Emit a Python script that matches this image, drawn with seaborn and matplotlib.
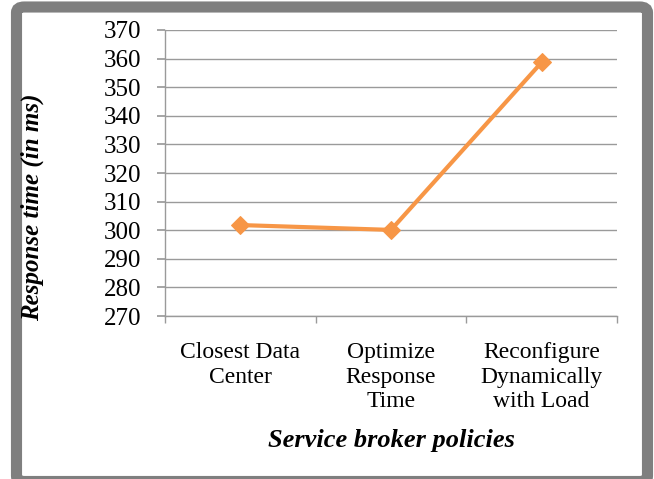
import matplotlib.pyplot as plt
import seaborn as sns
import pandas as pd
from matplotlib.patches import FancyBboxPatch

# data
policies = ['Closest Data\nCenter', 'Optimize\nResponse\nTime', 'Reconfigure\nDynamically\nwith Load']
response_time = [301.8, 300.1, 358.7]

y_ticks = list(range(270, 371, 10))

sns.set_theme(style='white')
plt.rcParams['font.family'] = ['Liberation Serif', 'DejaVu Serif']
plt.rcParams['text.color'] = 'black'

df = pd.DataFrame({'policy': policies, 'time': response_time})

fig = plt.figure(figsize=(6.54, 4.79), dpi=100)

# grey frame round the whole chart (bottom edge is cut by the picture)
frame = FancyBboxPatch((16.5 / 654, 1 - 481.5 / 479), 631 / 654, 474.5 / 479,
                       boxstyle='round,pad=0,rounding_size=0.012',
                       transform=fig.transFigure, facecolor='white',
                       edgecolor='#7f7f7f', linewidth=8, zorder=-10,
                       clip_on=False)
fig.patches.append(frame)

ax = fig.add_axes([165 / 654, 1 - 316 / 479, 452 / 654, 286 / 479])
ax.set_facecolor('none')
ax.set_zorder(5)

sns.lineplot(data=df, x='policy', y='time', ax=ax, color='#F79646',
             linewidth=3, marker='D', markersize=9, markeredgecolor='#F79646',
             sort=False)

ax.set_xlim(-0.5, 2.5)
ax.set_ylim(270, 370)
ax.set_yticks(y_ticks)
ax.yaxis.grid(True, color='#9a9a9a', linewidth=1)
ax.set_axisbelow(True)

for side in ['top', 'right']:
    ax.spines[side].set_visible(False)
for side in ['left', 'bottom']:
    ax.spines[side].set_color('#9a9a9a')
    ax.spines[side].set_linewidth(1)

# category ticks sit between the categories
ax.set_xticks([0, 1, 2])
ax.set_xticklabels(policies, fontsize=17, linespacing=1.2)
ax.set_xticks([-0.5, 0.5, 1.5, 2.5], minor=True)
ax.tick_params(axis='x', which='major', length=0, pad=19, labelcolor='black')
ax.tick_params(axis='x', which='minor', length=5, color='#9a9a9a', direction='out', bottom=True)
ax.tick_params(axis='y', length=6, color='#9a9a9a', labelcolor='black', direction='out', left=True,
               labelsize=18, pad=11)

ax.set_xlabel('')
ax.set_ylabel('')

fig.text(32 / 654, 1 - 207 / 479, 'Response time (in ms)', rotation=90,
         ha='center', va='center', fontsize=18, fontweight='bold', style='italic')
fig.text(391 / 654, 1 - 441 / 479, 'Service broker policies',
         ha='center', va='center', fontsize=19, fontweight='bold', style='italic')

fig.savefig('out.png', dpi=100)
